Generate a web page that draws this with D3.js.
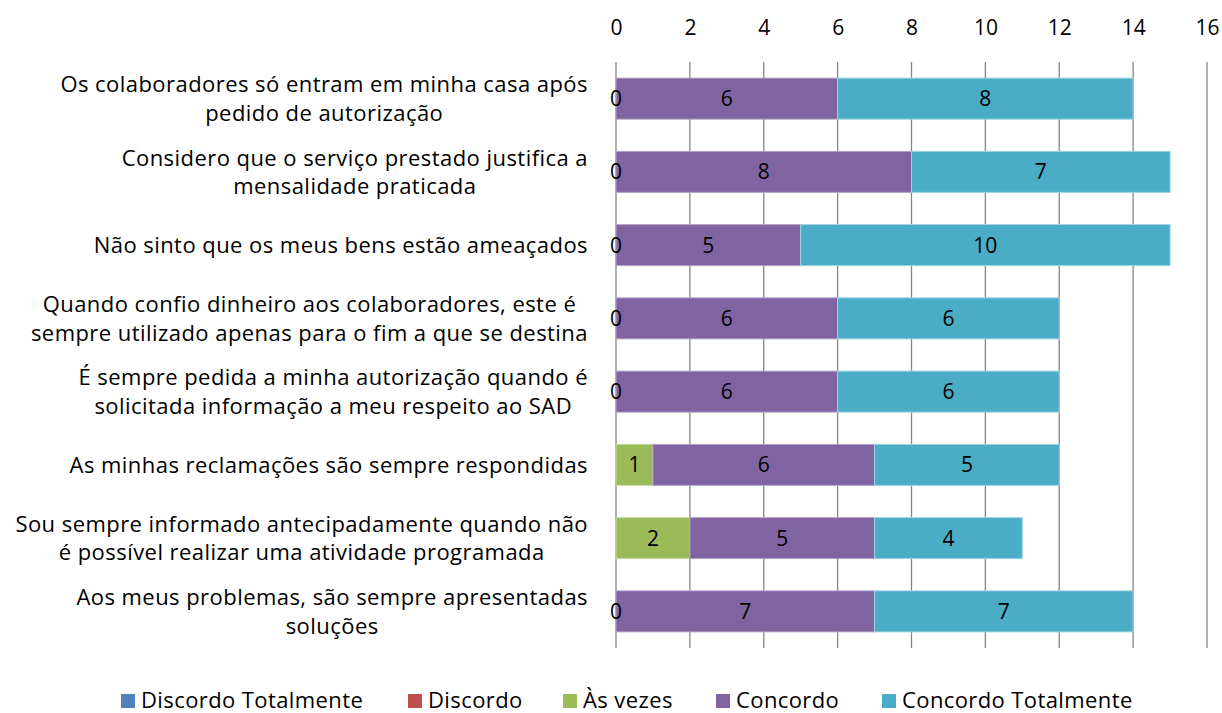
<!DOCTYPE html>
<html>
<head>
<meta charset="utf-8">
<script src="https://cdn.jsdelivr.net/npm/d3@7"></script>
<style>
  body { margin: 0; background: #fff; }
  svg { font-family: "Open Sans", Lato, sans-serif; }
  .grid line { stroke: #868686; stroke-width: 1.3; }
</style>
</head>
<body>
<svg width="1222" height="713"></svg>
<script>
// categories (each entry = lines of the label)
let categories = [
  ["Os colaboradores só entram em minha casa após", "pedido de autorização"],
  ["Considero que o serviço prestado justifica a", "mensalidade praticada"],
  ["Não sinto que os meus bens estão ameaçados"],
  ["Quando confio dinheiro aos colaboradores, este é", "sempre utilizado apenas para o fim a que se destina"],
  ["É sempre pedida a minha autorização quando é", "solicitada informação a meu respeito ao SAD"],
  ["As minhas reclamações são sempre respondidas"],
  ["Sou sempre informado antecipadamente quando não", "é possível realizar uma atividade programada"],
  ["Aos meus problemas, são sempre apresentadas", "soluções"]
];

let seriesNames = ["Discordo Totalmente", "Discordo", "Às vezes", "Concordo", "Concordo Totalmente"];
let seriesColors = ["#4f81bd", "#c0504d", "#9bbb59", "#8064a2", "#4bacc6"];
let strokeColors = ["#9bb7da", "#dd9e9c", "#c6d9a3", "#b3a2c8", "#9ed3e2"];

let discordoTotalmente = [0, 0, 0, 0, 0, 0, 0, 0];
let discordo           = [0, 0, 0, 0, 0, 0, 0, 0];
let asVezes            = [0, 0, 0, 0, 0, 1, 2, 0];
let concordo           = [6, 8, 5, 6, 6, 6, 5, 7];
let concordoTotalmente = [8, 7, 10, 6, 6, 5, 4, 7];

let xTicks = [0, 2, 4, 6, 8, 10, 12, 14, 16];

let values = [discordoTotalmente, discordo, asVezes, concordo, concordoTotalmente];

let rows = categories.map(function(c, i) {
  let r = { idx: i };
  seriesNames.forEach(function(s, j) { r[s] = values[j][i]; });
  return r;
});

let svg = d3.select("svg"),
    margin = {top: 62, left: 616};

let x = d3.scaleLinear().domain([0, 16]).range([0, 1207 - 616]);
let y = d3.scaleBand().domain(d3.range(categories.length)).range([0, 648 - 62]).paddingInner(0.44).paddingOuter(0.22);

let g = svg.append("g").attr("transform", "translate(" + margin.left + "," + margin.top + ")");

// vertical gridlines
g.append("g")
    .attr("class", "grid")
    .selectAll("line")
    .data(xTicks)
  .enter().append("line")
    .attr("x1", function(d) { return x(d); })
    .attr("x2", function(d) { return x(d); })
    .attr("y1", 0)
    .attr("y2", 648 - 62);

// top axis labels
let axis = g.append("g")
    .call(d3.axisTop(x).tickValues(xTicks).tickSize(0).tickPadding(0));
axis.select(".domain").remove();
axis.selectAll("text")
    .attr("y", 35 - 62)
    .attr("dy", 0)
    .style("font-family", "'Open Sans', sans-serif")
    .style("font-size", "21px")
    .attr("fill", "#000");

let stacked = d3.stack().keys(seriesNames)(rows);

let layer = g.selectAll(".layer")
    .data(stacked)
  .enter().append("g")
    .attr("class", "layer");

layer.selectAll("rect")
    .data(function(d) { return d.filter(function(p) { return p[1] - p[0] > 0; }); })
  .enter().append("rect")
    .attr("x", function(d) { return x(d[0]); })
    .attr("y", function(d) { return y(d.data.idx); })
    .attr("width", function(d) { return x(d[1]) - x(d[0]); })
    .attr("height", y.bandwidth())
    .attr("fill", function() { return seriesColors[seriesNames.indexOf(d3.select(this.parentNode).datum().key)]; })
    .attr("stroke", function() { return strokeColors[seriesNames.indexOf(d3.select(this.parentNode).datum().key)]; })
    .attr("stroke-width", 1);

// data labels: Às vezes, Concordo, Concordo Totalmente (zeros shown for Às vezes)
g.selectAll(".labels")
    .data(stacked.filter(function(d) { return d.index >= 2; }))
  .enter().append("g")
    .attr("class", "labels")
  .selectAll("text")
    .data(function(d) { return d; })
  .enter().append("text")
    .attr("x", function(d) { return x((d[0] + d[1]) / 2); })
    .attr("y", function(d) { return y(d.data.idx) + y.bandwidth() / 2; })
    .attr("dy", "0.36em")
    .attr("text-anchor", "middle")
    .style("font-size", "21px")
    .attr("fill", "#000")
    .text(function(d) { return d[1] - d[0]; });

// category labels, lines centered inside a right-aligned block
let labelRight = 588, lineH = 28.5;
let lab = svg.append("g");
categories.forEach(function(lines, i) {
  let cy = margin.top + y(i) + y.bandwidth() / 2;
  let t = lab.append("text")
      .style("font-size", "22px")
      .style("letter-spacing", "0.45px")
      .attr("fill", "#000")
      .attr("text-anchor", "middle");
  lines.forEach(function(l, k) {
    t.append("tspan").attr("x", 0).attr("y", cy + (k - (lines.length - 1) / 2) * lineH).attr("dy", "0.36em").text(l);
  });
  let w = t.node().getBBox().width;
  t.selectAll("tspan").attr("x", labelRight - w / 2);
});

// legend
let legendX = [121, 408, 563, 716, 882];
let legend = svg.append("g").attr("transform", "translate(0,708)");
seriesNames.forEach(function(s, i) {
  legend.append("rect")
      .attr("x", legendX[i]).attr("y", -14)
      .attr("width", 14).attr("height", 14)
      .attr("fill", seriesColors[i]);
  legend.append("text")
      .attr("x", legendX[i] + 20).attr("y", 0)
      .style("font-size", "22px")
      .style("letter-spacing", "0.4px")
      .attr("fill", "#000")
      .text(s);
});
</script>
</body>
</html>
